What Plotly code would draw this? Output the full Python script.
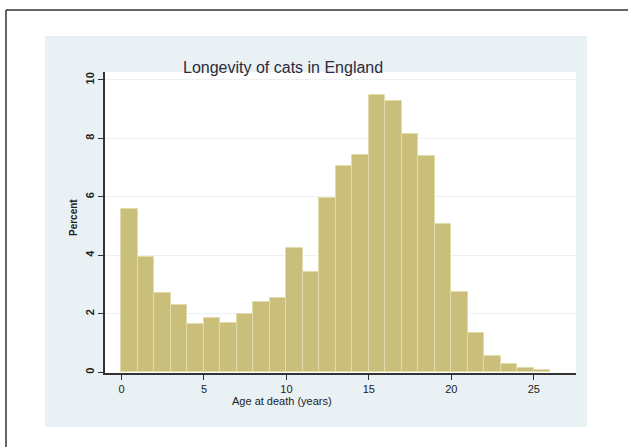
import plotly.graph_objects as go

# ---- data ----
bin_left = [0, 1, 2, 3, 4, 5, 6, 7, 8, 9, 10, 11, 12, 13, 14, 15, 16, 17, 18, 19, 20, 21, 22, 23, 24, 25]
percent = [5.58, 3.94, 2.73, 2.31, 1.67, 1.85, 1.70, 1.99, 2.40, 2.55,
           4.26, 3.43, 5.96, 7.06, 7.44, 9.49, 9.29, 8.14, 7.40, 5.08,
           2.76, 1.34, 0.57, 0.28, 0.15, 0.08]
x_ticks = [0, 5, 10, 15, 20, 25]
y_ticks = [0, 2, 4, 6, 8, 10]
title_text = "Longevity of cats in England"
x_title = "Age at death (years)"
y_title = "Percent"

W, H = 628, 447
L, R, T, B = 105, 52, 72, 74
PW, PH = W - L - R, H - T - B


def px(x):
    return (x - L) / PW


def py(y):
    return 1 - (y - T) / PH


FONT = "Liberation Sans, Arial, sans-serif"
BLUE = "#e9f1f5"

fig = go.Figure()
fig.add_trace(go.Bar(
    x=bin_left, y=percent, offset=0, width=1,
    marker=dict(color="#c9be7a", line=dict(color="#e2dcaa", width=1)),
    hoverinfo="x+y",
))


def rect(x0, y0, x1, y1):
    return dict(type="rect", xref="paper", yref="paper", layer="below",
                x0=px(x0), x1=px(x1), y0=py(y1), y1=py(y0),
                fillcolor=BLUE, line=dict(width=0))


shapes = [
    # light bluish graph region drawn as a frame around the white plot region
    rect(45, 36, 587, 72),
    rect(45, 373, 587, 427),
    rect(45, 72, 105, 373),
    rect(576, 72, 587, 373),
    # outer frame (top and left visible)
    dict(type="line", xref="paper", yref="paper", x0=px(6), x1=px(628), y0=py(10), y1=py(10),
         line=dict(color="#333333", width=1.5)),
    dict(type="line", xref="paper", yref="paper", x0=px(6), x1=px(6), y0=py(10), y1=py(447),
         line=dict(color="#333333", width=1.5)),
]

annotations = [
    dict(text=title_text, xref="paper", yref="paper", x=px(283), y=py(68),
         showarrow=False, font=dict(family=FONT, size=16, color="#2b2b3a"),
         xanchor="center", yanchor="middle"),
    dict(text=x_title, xref="paper", yref="paper", x=px(282), y=py(401),
         showarrow=False, font=dict(family=FONT, size=11, color="#222222"),
         xanchor="center", yanchor="middle"),
    dict(text="<b>" + y_title + "</b>", xref="paper", yref="paper", x=px(73), y=py(218),
         showarrow=False, textangle=-90, font=dict(family=FONT, size=10, color="#222222"),
         xanchor="center", yanchor="middle"),
]

fig.update_layout(
    width=W, height=H,
    margin=dict(l=L, r=R, t=T, b=B, pad=0),
    paper_bgcolor="white",
    plot_bgcolor="white",
    showlegend=False,
    bargap=0,
    shapes=shapes,
    annotations=annotations,
    xaxis=dict(
        range=[-1.0, 27.56], tickvals=x_ticks, ticks="outside", ticklen=5,
        tickcolor="#333333", showline=True, linecolor="#333333", linewidth=1.5,
        showgrid=False, zeroline=False,
        tickfont=dict(family=FONT, size=11, color="#222222"),
    ),
    yaxis=dict(
        range=[-0.02, 10.27], tickvals=y_ticks, ticks="outside", ticklen=5,
        tickcolor="#333333", showline=True, linecolor="#333333", linewidth=1.5,
        showgrid=True, gridcolor="#edf1f3", gridwidth=1, zeroline=False,
        tickangle=-90,
        tickfont=dict(family=FONT, size=11, color="#222222", weight="bold"),
    ),
)

fig.write_html(
    "out.html", config={"responsive": False, "displayModeBar": False},
    post_script=("document.body.style.margin='0';"
                 "document.body.style.overflow='hidden';"
                 "document.documentElement.style.overflow='hidden';"),
)
